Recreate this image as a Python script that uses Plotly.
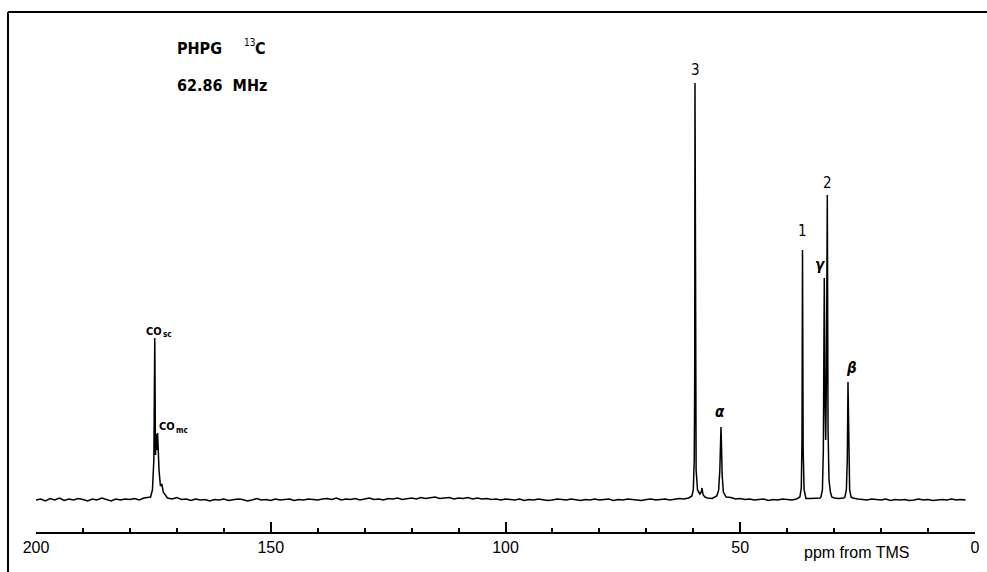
import plotly.graph_objects as go

# ---------------- data ----------------
# baseline samples, ppm 200 -> 2 (1 ppm apart), intensity in arbitrary units
baseline_ppm = list(range(200, 1, -1))
baseline_int = [
    0, 1, -1, 1.5, 0, 2, -0.5, 1, 0, 1.5,
    0.5, -1, 1, 0, 2, 0.5, -1, 1, 0, 1,
    0.5, 1.5, 0, 2, 3,
    2, 2, 2,
    2, 1, 2.5, 0.5, 1, -0.5, 1, 0, 0.5, -1, 0.5, 0,
    1, -0.5, 0, 1, 0.5, -1, 0, 1.5, 0, 0.5, -0.5, 1, 0, 0.5, 1, -0.5, 0.5, 0, 1, 0.5,
    0, 1, 1.5, 0.5, 2, 0, 1, 0.5, 1.5, 0, 1, 2, 0.5, 1, 0, 1.5, 1, 2, 0.5, 1.5,
    2, 1, 2.5, 1.5, 2, 3, 1.5, 2, 2.5, 1, 2, 1.5, 2.5, 1, 2, 1, 1.5, 0.5, 1, 0,
    1, 0.5, 0, 1, -0.5, 0.5, 0, 1, 0.5, -0.5, 0, 1, 0.5, 0, 1, 0.5, -0.5, 0.5, 0, 1,
    0, 0.5, 1, -0.5, 0.5, 0, 1, 0.5, 0, -0.5, 0.5, 1, 0, 0.5, 1, 0, 0.5, 1.5, 1, 2,
    3, 3, 3, 2, 1.5, 3, 3, 3, 2.5, 1, 1.5, 0.5, 1, 0, 0.5, 1, -0.5, 0.5, 0, 1,
    0.5, 0, 1, 1, 1.5, 1.5, 1.5, 2, 2, 2, 2, 1.5, 2, 2, 2, 1, 0.5, 0, 1, 0.5,
    0, 1, -0.5, 0.5, 0, 0.5, -0.5, 0, 1, 0, 0.5, -0.5, 0, 0.5, 0, 1, 0, 0.5, 0,
]

# peak profiles (CO_sc / CO_mc, 3 + shoulder, alpha, 1, gamma + 2, beta)
peak_co_ppm = [175.6, 175.2, 174.9, 174.7, 174.55, 174.4, 174.25, 174.1, 173.95, 173.8, 173.5, 173.2, 172.9, 172.5]
peak_co_int = [3, 10, 40, 162, 45, 66, 50, 67, 40, 30, 14, 16, 8, 5]
peak_3_ppm = [60.3, 60.0, 59.8, 59.7, 59.64, 59.55, 59.4, 59.1, 58.6, 58.3, 58.15, 57.9, 57.5]
peak_3_int = [4, 10, 40, 120, 417, 100, 30, 10, 6, 8, 12, 5, 3]
peak_a_ppm = [55.0, 54.6, 54.35, 54.2, 54.1, 54.0, 53.85, 53.6, 53.2]
peak_a_int = [4, 10, 30, 60, 73, 55, 25, 8, 4]
peak_1_ppm = [37.3, 37.0, 36.85, 36.74, 36.6, 36.4, 36.1]
peak_1_int = [3, 12, 60, 250, 50, 10, 3]
peak_g2_ppm = [32.8, 32.5, 32.3, 32.1, 31.95, 31.8, 31.65, 31.46, 31.3, 31.1, 30.8, 30.5]
peak_g2_int = [3, 10, 50, 222, 100, 60, 120, 305, 70, 20, 8, 3]
peak_b_ppm = [27.7, 27.4, 27.2, 27.05, 26.9, 26.7, 26.4]
peak_b_int = [3, 10, 40, 118, 35, 10, 3]

tick_vals = [200, 150, 100, 50, 0]
tick_text = ["200", "150", "100", "50", "0"]

# ---------------- build the spectrum ----------------
peaks = [
    (peak_co_ppm, peak_co_int), (peak_3_ppm, peak_3_int), (peak_a_ppm, peak_a_int),
    (peak_1_ppm, peak_1_int), (peak_g2_ppm, peak_g2_int), (peak_b_ppm, peak_b_int),
]
pts = []
for p, v in zip(baseline_ppm, baseline_int):
    if any(min(pp) <= p <= max(pp) for pp, _ in peaks):
        continue
    pts.append((p, v))
for pp, vv in peaks:
    pts.extend(zip(pp, vv))
pts.sort(key=lambda t: -t[0])
spec_x = [p for p, _ in pts]
spec_y = [v for _, v in pts]

fig = go.Figure()
fig.add_trace(go.Scatter(x=spec_x, y=spec_y, mode="lines",
                         line=dict(color="black", width=1.5), hoverinfo="skip",
                         showlegend=False))

W, H = 987, 572
L_AX, R_AX = 36, 975
B = 40
PH = H - B

fig.update_layout(
    width=W, height=H,
    margin=dict(l=0, r=0, t=0, b=B, autoexpand=False),
    paper_bgcolor="white", plot_bgcolor="white",
    showlegend=False,
)
fig.update_xaxes(
    range=[200, 0], domain=[L_AX / W, R_AX / W], automargin=False,
    showline=True, linecolor="black", linewidth=2,
    ticks="inside", ticklen=10, tickwidth=1.5, tickcolor="black",
    tickvals=tick_vals, ticktext=tick_text,
    minor=dict(dtick=10, tick0=0, ticks="inside", ticklen=4, tickwidth=1.5, tickcolor="black", showgrid=False),
    showgrid=False, zeroline=False,
    tickfont=dict(family="Liberation Sans, Arial, sans-serif", size=16, color="black"),
)
fig.update_yaxes(range=[-32, 500], visible=False, domain=[0, 1], automargin=False)


def px(pix):
    return pix / W


def py(pix):
    return (PH - pix) / PH


# frame lines (top and left)
fig.add_shape(type="line", xref="paper", yref="paper", x0=px(8), x1=1, y0=py(12), y1=py(12),
              line=dict(color="black", width=2))
fig.add_shape(type="line", xref="paper", yref="paper", x0=px(8), x1=px(8), y0=py(12), y1=py(H),
              line=dict(color="black", width=2))

FAM = "DejaVu Sans Condensed, Liberation Sans Narrow, sans-serif"


def txt(text, x, y, size, anchor="center", weight="normal", style="normal"):
    fig.add_annotation(x=px(x), y=py(y), xref="paper", yref="paper", text=text,
                       showarrow=False, xanchor=anchor, yanchor="middle",
                       font=dict(family=FAM, size=size, color="black", weight=weight, style=style))


# peak labels (pixel positions)
txt("3", 695, 70, 15)
txt("1", 802, 231, 15)
txt("2", 827, 183, 15)
txt("γ", 820, 265, 15, weight="bold", style="italic")
txt("β", 851, 368, 15, weight="bold", style="italic")
txt("α", 720, 412, 15, weight="bold", style="italic")
txt("CO", 144, 331, 11, anchor="left", weight="bold")
txt("sc", 161, 334, 8, anchor="left", weight="bold")
txt("CO", 157, 427, 11, anchor="left", weight="bold")
txt("mc", 174, 430, 8, anchor="left", weight="bold")

# title block
txt("PHPG", 175, 48, 16, anchor="left", weight="bold")
txt("13", 242, 42, 10, anchor="left")
txt("C", 253, 48, 16, anchor="left", weight="bold")
txt("62.86  MHz", 175, 86, 16, anchor="left", weight="bold")

fig.add_annotation(x=px(857), y=py(552), xref="paper", yref="paper",
                   text="ppm from TMS", showarrow=False,
                   font=dict(family="Liberation Sans, Arial, sans-serif", size=16, color="black"),
                   xanchor="center", yanchor="middle")

fig.write_html("out.html", post_script="document.body.style.margin='0px';")
